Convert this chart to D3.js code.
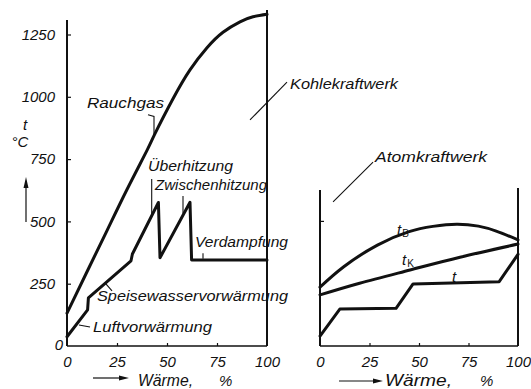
<!DOCTYPE html>
<html>
<head>
<meta charset="utf-8">
<script src="https://cdn.jsdelivr.net/npm/d3@7/dist/d3.min.js"></script>
<style>
  html, body { margin: 0; padding: 0; background: #fff; }
  svg { display: block; }
  text { font-family: "Liberation Sans", Arial, sans-serif; font-style: italic; fill: #111; }
</style>
</head>
<body>
<svg id="chart" width="531" height="389"></svg>
<script>
// Wärme (%) vs. Temperatur (°C) — Kohlekraftwerk (links) und Atomkraftwerk (rechts)

// Kohlekraftwerk: Rauchgas
const rauchgasW = [0, 10, 20, 30, 40, 44, 53, 61.5, 70, 78, 86.5, 93, 100];
const rauchgasT = [132, 298, 463, 628, 785, 852, 992, 1108, 1197, 1259, 1301, 1321, 1331];

// Kohlekraftwerk: Wasser/Dampf (Luftvorwärmung, Speisewasser, Überhitzung, Zwischenhitzung, Verdampfung)
const dampfW = [0, 10.3, 10.7, 32, 32.7, 45.7, 46.5, 61.5, 62.3, 100];
const dampfT = [37, 145, 193, 342, 369, 576, 354, 577, 345, 345];

// Atomkraftwerk: t_B, t_K, t
const tbW = [0, 12, 29, 45, 57, 69, 80, 89, 100];
const tbT = [236, 318, 405, 459, 480, 489, 481, 461, 426];
const tkW = [0, 20, 45.5, 70.7, 100];
const tkT = [205, 252, 305, 356, 409];
const tW = [0, 10, 38.4, 47, 90.5, 100];
const tT = [40, 148, 151, 249, 258, 368];

// Achsen
const yTicks = [0, 250, 500, 750, 1000, 1250];
const xTicks = [0, 25, 50, 75, 100];

const svg = d3.select("#chart");
const ink = "#111";
const fontFam = "Liberation Sans, Arial, sans-serif";

const y = d3.scaleLinear().domain([0, 1250]).range([346, 34.5]);
const xL = d3.scaleLinear().domain([0, 100]).range([67, 267]);
const xR = d3.scaleLinear().domain([0, 100]).range([320, 518]);

const zip = (a, b) => a.map((v, i) => [v, b[i]]);

function frame(x, leftTop, rightTop) {
  const g = svg.append("g").attr("stroke", ink).attr("fill", "none");
  g.append("line").attr("x1", x(0)).attr("x2", x(0)).attr("y1", y(0)).attr("y2", y(leftTop)).attr("stroke-width", 2);
  g.append("line").attr("x1", x(100)).attr("x2", x(100)).attr("y1", y(0)).attr("y2", y(rightTop)).attr("stroke-width", 2);
  g.append("line").attr("x1", x(0)).attr("x2", x(100)).attr("y1", y(0)).attr("y2", y(0)).attr("stroke-width", 1.6);
}

function styleAxis(g) {
  g.attr("font-family", fontFam).attr("font-size", 15);
  g.select(".domain").remove();
  g.selectAll(".tick line").attr("stroke", ink).attr("stroke-width", 1.2);
  g.selectAll(".tick text").attr("font-style", "italic").attr("fill", ink);
}

function bottomAxis(x) {
  const g = svg.append("g").attr("transform", `translate(0,${y(0)})`)
    .call(d3.axisBottom(x).tickValues(xTicks).tickFormat(d3.format("d"))
      .tickSizeInner(-3).tickSizeOuter(0).tickPadding(10));
  styleAxis(g);
  g.selectAll(".tick line").filter(d => d === 0 || d === 100).remove();
}

// Linkes Diagramm
frame(xL, 1308, 1348);
bottomAxis(xL);
{
  const g = svg.append("g").attr("transform", `translate(${xL(0)},0)`)
    .call(d3.axisLeft(y).tickValues(yTicks).tickFormat(d3.format("d"))
      .tickSizeInner(-4).tickSizeOuter(0).tickPadding(12));
  styleAxis(g);
  g.selectAll(".tick line").filter(d => d === 0).remove();
  g.selectAll(".tick text").filter(d => d === 0).attr("x", -4).attr("dy", "0.2em");
}

// Rechtes Diagramm
frame(xR, 626, 634);
bottomAxis(xR);
svg.append("line").attr("x1", xR(0)).attr("x2", xR(0) + 4).attr("y1", y(500)).attr("y2", y(500))
  .attr("stroke", ink).attr("stroke-width", 1.2);

// Kurven
function curve(x, w, t, c) {
  svg.append("path")
    .datum(zip(w, t))
    .attr("fill", "none").attr("stroke", ink).attr("stroke-width", 3)
    .attr("stroke-linejoin", "round").attr("stroke-linecap", "round")
    .attr("d", d3.line().x(d => x(d[0])).y(d => y(d[1])).curve(c));
}
curve(xL, rauchgasW, rauchgasT, d3.curveNatural);
curve(xL, dampfW, dampfT, d3.curveLinear);
curve(xR, tbW, tbT, d3.curveNatural);
curve(xR, tkW, tkT, d3.curveNatural);
curve(xR, tW, tT, d3.curveLinear);

// Hinweislinien zu den Beschriftungen (in Datenkoordinaten)
const leaders = [
  { x: xL, pts: [[40.5, 928], [43.5, 921], [43.5, 847]] },
  { x: xL, pts: [[42.35, 670], [42.35, 530]] },
  { x: xL, pts: [[58, 602], [58, 532]] },
  { x: xL, pts: [[68, 372], [68, 350]] },
  { x: xL, pts: [[19, 253], [22.5, 221]] },
  { x: xL, pts: [[6, 84], [11.5, 76]] },
  { x: xL, pts: [[91.5, 907], [110, 1059]] },
  { x: xR, pts: [[26.8, 738], [6.6, 578]] }
];
leaders.forEach(l => {
  svg.append("path")
    .attr("fill", "none").attr("stroke", ink).attr("stroke-width", 1.1)
    .attr("d", d3.line().x(d => l.x(d[0])).y(d => y(d[1]))(l.pts));
});

// Beschriftungen
const labels = [
  { s: "Rauchgas", x: 87, y: 108, len: 77 },
  { s: "Kohlekraftwerk", x: 290, y: 89, len: 108 },
  { s: "Überhitzung", x: 148, y: 171, len: 85 },
  { s: "Zwischenhitzung", x: 155, y: 190, len: 112 },
  { s: "Verdampfung", x: 195, y: 247, len: 93 },
  { s: "Speisewasservorwärmung", x: 97, y: 301, len: 191 },
  { s: "Luftvorwärmung", x: 93, y: 332, len: 119 },
  { s: "Atomkraftwerk", x: 375, y: 162, len: 112 }
];
labels.forEach(d => {
  svg.append("text").attr("x", d.x).attr("y", d.y).attr("font-size", 15)
    .attr("textLength", d.len).attr("lengthAdjust", "spacingAndGlyphs").text(d.s);
});

// Kurvenbezeichnungen rechts
function sub(x0, y0, main, s) {
  const t = svg.append("text").attr("x", x0).attr("y", y0).attr("font-size", 15);
  t.append("tspan").text(main);
  if (s) t.append("tspan").attr("font-size", 10).attr("font-style", "normal").attr("dx", 1).attr("dy", 2).text(s);
}
sub(397, 235, "t", "B");
sub(402, 265, "t", "K");
sub(452, 282, "t", null);

// Achsenbeschriftung y
svg.append("text").attr("x", 25).attr("y", 130).attr("font-size", 15).attr("text-anchor", "middle").text("t");
svg.append("text").attr("x", 20).attr("y", 147).attr("font-size", 15).attr("text-anchor", "middle").text("°C");
svg.append("line").attr("x1", 26).attr("x2", 26).attr("y1", 222).attr("y2", 186).attr("stroke", ink).attr("stroke-width", 1.2);
svg.append("path").attr("d", "M26,177 L23.5,188 L28.5,188 Z").attr("fill", ink);

// Achsenbeschriftung x
function xTitle(a0, a1, ay, wx, wlen, px) {
  svg.append("line").attr("x1", a0).attr("x2", a1 - 6).attr("y1", ay).attr("y2", ay).attr("stroke", ink).attr("stroke-width", 1.2);
  svg.append("path").attr("d", `M${a1},${ay} L${a1 - 10},${ay - 2.5} L${a1 - 10},${ay + 2.5} Z`).attr("fill", ink);
  svg.append("text").attr("x", wx).attr("y", 386).attr("font-size", 16)
    .attr("textLength", wlen).attr("lengthAdjust", "spacingAndGlyphs").text("Wärme,");
  svg.append("text").attr("x", px).attr("y", 386).attr("font-size", 15).text("%");
}
xTitle(93, 129, 378, 138, 55, 219);
xTitle(339, 383, 381, 385, 67, 480);
</script>
</body>
</html>
